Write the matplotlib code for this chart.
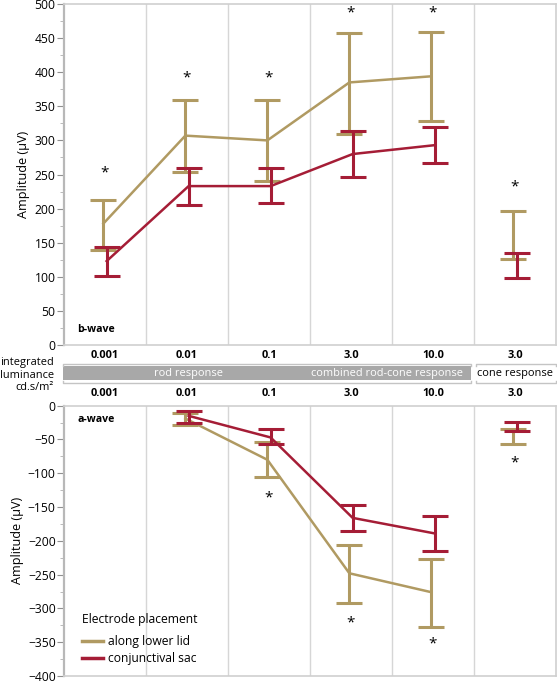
import matplotlib
matplotlib.use("Agg")
import matplotlib.pyplot as plt
import numpy as np
from matplotlib.lines import Line2D
from matplotlib.patches import Rectangle
from matplotlib.ticker import MultipleLocator

plt.rcParams["font.family"] = ["Open Sans", "DejaVu Sans"]

CATS = ["0.001", "0.01", "0.1", "3.0", "10.0", "3.0"]
N_LINKED = 5   # the last category (cone response) is not joined by the line

TAN = "#b09a62"
RED = "#a51d36"
GRID = "#d6d6d6"

# b-wave (µV)
b_lid_mean  = [178, 307, 300, 385, 394, 161]
b_lid_lo    = [140, 254, 241, 310, 329, 126]
b_lid_hi    = [212, 359, 359, 458, 459, 197]
b_sac_mean  = [123, 233, 233, 280, 293, 116]
b_sac_lo    = [101, 206, 208, 246, 267, 98]
b_sac_hi    = [144, 260, 260, 314, 319, 135]
b_star_x    = [0, 1, 2, 3, 4, 5]
b_star_y    = [252, 392, 392, 487, 487, 232]

# a-wave (µV), no recording at 0.001
nan = np.nan
a_lid_mean  = [nan, -19, -80, -248, -276, -46]
a_lid_lo    = [nan, -28, -105, -292, -327, -57]
a_lid_hi    = [nan, -11, -53, -206, -227, -35]
a_sac_mean  = [nan, -15, -47, -166, -189, -30]
a_sac_lo    = [nan, -26, -56, -186, -215, -37]
a_sac_hi    = [nan, -8, -35, -147, -163, -24]
a_star_x    = [2, 3, 4, 5]
a_star_y    = [-136, -321, -352, -85]

W, H = 557, 683
FS = 7.9


def fx(px):
    return px / W


def fy(py):
    return 1 - py / H


def draw_series(ax, mean, lo, hi, colour, dx, label):
    x = np.arange(len(mean)) + dx
    mean = np.asarray(mean, float)
    yerr = [mean - np.asarray(lo, float), np.asarray(hi, float) - mean]
    ax.errorbar(x, mean, yerr=yerr, fmt="none", ecolor=colour, elinewidth=2.2,
                capsize=9.3, capthick=2.2, zorder=3)
    ax.plot(x[:N_LINKED], mean[:N_LINKED], color=colour, lw=1.8, zorder=3,
            label=label)


def style_axes(ax, ylim):
    ax.set_xlim(-0.5, 5.5)
    ax.set_ylim(*ylim)
    ax.set_xticks([])
    ax.yaxis.set_major_locator(MultipleLocator(50))
    ax.yaxis.set_minor_locator(MultipleLocator(25))
    ax.tick_params(axis="y", which="major", length=5, color="#909090",
                   labelsize=FS + 0.8, pad=1)
    ax.tick_params(axis="y", which="minor", length=3, color="#b0b0b0")
    for s in ax.spines.values():
        s.set_color("#cfcfcf")
        s.set_linewidth(1.2)
    ax.spines["left"].set_color("#b8b8b8")
    ax.spines["left"].set_linewidth(1.6)
    for xv in np.arange(0.5, 5, 1.0):
        ax.axvline(xv, color=GRID, lw=1.0, zorder=0)
    ax.set_ylabel("Amplitude (\u00b5V)", fontsize=FS + 1.2, labelpad=3)


def main() -> None:
    fig = plt.figure(figsize=(W / 100, H / 100), dpi=100)
    left, right = 64, 556
    a_top, a_bot = 405.7, 676.0
    ax_b = fig.add_axes([fx(left), fy(345), fx(right - left), (345 - 4) / H])
    ax_a = fig.add_axes([fx(left), fy(a_bot), fx(right - left), (a_bot - a_top) / H])

    # b-wave
    draw_series(ax_b, b_lid_mean, b_lid_lo, b_lid_hi, TAN, -0.02, "along lower lid")
    draw_series(ax_b, b_sac_mean, b_sac_lo, b_sac_hi, RED, 0.02, "conjunctival sac")
    for x, y in zip(b_star_x, b_star_y):
        ax_b.text(x, y, "*", ha="center", va="center", fontsize=11)
    style_axes(ax_b, (0, 500))
    ax_b.text(0.027, 0.03, "b-wave", transform=ax_b.transAxes, fontsize=FS - 0.3,
              fontweight="bold", ha="left", va="bottom")

    # a-wave
    draw_series(ax_a, a_lid_mean, a_lid_lo, a_lid_hi, TAN, -0.02, "along lower lid")
    draw_series(ax_a, a_sac_mean, a_sac_lo, a_sac_hi, RED, 0.02, "conjunctival sac")
    for x, y in zip(a_star_x, a_star_y):
        ax_a.text(x, y, "*", ha="center", va="center", fontsize=11)
    style_axes(ax_a, (-400, 0))
    ax_a.text(0.027, 0.97, "a-wave", transform=ax_a.transAxes, fontsize=FS - 0.3,
              fontweight="bold", ha="left", va="top")

    # legend: title as its own text so the gap below it matches the original
    ax_a.text((82 - left) / (right - left), (a_bot - 619) / (a_bot - a_top),
              "Electrode placement", transform=ax_a.transAxes,
              fontsize=FS + 0.8, ha="left", va="center")
    handles = [Line2D([], [], color=TAN, lw=2.5), Line2D([], [], color=RED, lw=2.5)]
    ax_a.legend(handles, ["along lower lid", "conjunctival sac"],
                loc="lower left", bbox_to_anchor=(0.015, 0.0), frameon=False,
                fontsize=FS + 0.8, handlelength=1.7, handletextpad=0.4,
                labelspacing=0.3)

    # middle band: luminance labels and response groups
    centres = [105 + 82 * i for i in range(len(CATS))]
    for cx, lab in zip(centres, CATS):
        for py in (356, 393):
            fig.text(fx(cx), fy(py), lab, ha="center", va="center",
                     fontsize=FS, fontweight="bold")

    fig.patches.append(Rectangle((fx(63), fy(380)), fx(471 - 63), (380 - 366) / H,
                                 transform=fig.transFigure, facecolor="#a8a8a8",
                                 edgecolor="none"))
    for x0, x1 in ((63, 471), (476, 556)):
        for py, tick in ((364, 2), (383, -2)):
            fig.add_artist(Line2D([fx(x0), fx(x0), fx(x1), fx(x1)],
                                  [fy(py + tick), fy(py), fy(py), fy(py + tick)],
                                  transform=fig.transFigure, color="#c4c4c4", lw=1))
    fig.text(fx(188), fy(373.5), "rod response", ha="center", va="center",
             fontsize=FS, color="white")
    fig.text(fx(387), fy(373.5), "combined rod-cone response", ha="center",
             va="center", fontsize=FS, color="white")
    fig.text(fx(515), fy(373.5), "cone response", ha="center", va="center",
             fontsize=FS, color="black")

    for py, lab in ((363, "integrated"), (375, "luminance"), (387, "cd.s/m\u00b2")):
        fig.text(fx(54), fy(py), lab, ha="right", va="center", fontsize=FS)

    fig.savefig("out.png", dpi=100)
    plt.close(fig)


if __name__ == "__main__":
    main()
